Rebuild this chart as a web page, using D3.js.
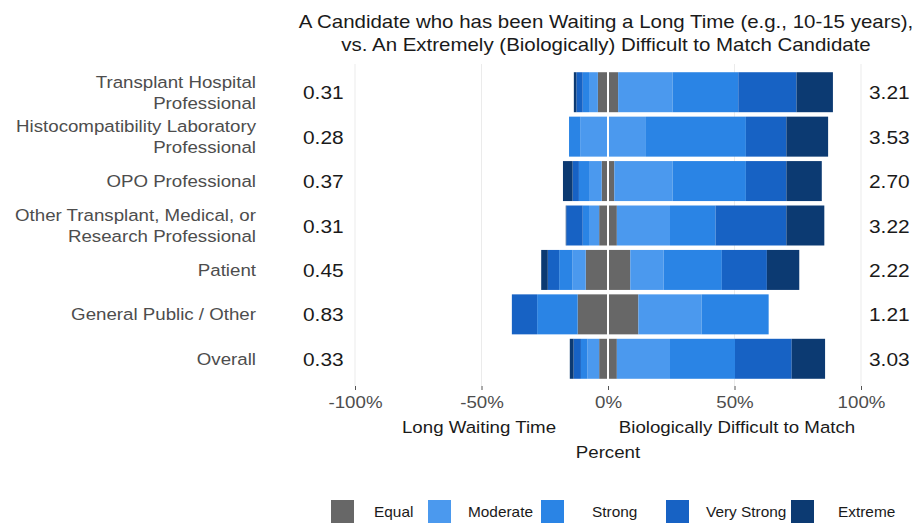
<!DOCTYPE html>
<html>
<head>
<meta charset="utf-8">
<script src="https://cdn.jsdelivr.net/npm/d3@7"></script>
<style>
  body { margin: 0; background: #fff; }
  svg { font-family: "Liberation Sans", Arial, sans-serif; }
</style>
</head>
<body>
<svg width="922" height="527"></svg>
<script>
// groups, top to bottom
const groups = [
  "Transplant Hospital|Professional",
  "Histocompatibility Laboratory|Professional",
  "OPO Professional",
  "Other Transplant, Medical, or|Research Professional",
  "Patient",
  "General Public / Other",
  "Overall"
];
const leftValues = ["0.31", "0.28", "0.37", "0.31", "0.45", "0.83", "0.33"];
const rightValues = ["3.21", "3.53", "2.70", "3.22", "2.22", "1.21", "3.03"];

const levels = ["Equal", "Moderate", "Strong", "Very Strong", "Extreme"];

// percent "Equal" (split half each side of zero)
const equal = [8, 0, 5, 7, 17.6, 24, 7];
// Long Waiting Time side (percent)
const leftModerate = [3.5, 11, 5, 4, 5.2, 0, 4.6];
const leftStrong = [2.5, 4.4, 4, 2.5, 5.3, 16, 2.6];
const leftVeryStrong = [2.5, 0, 2.5, 6.5, 4.5, 10, 2.9];
const leftExtreme = [1, 0, 3.8, 0.2, 2.6, 0, 1.5];
// Biologically Difficult to Match side (percent)
const rightModerate = [21.5, 15, 23, 21, 13.2, 25, 21];
const rightStrong = [26, 39.5, 29, 18, 23, 26.5, 25.7];
const rightVeryStrong = [23, 16, 16, 28, 17.8, 0, 22.4];
const rightExtreme = [14.4, 16.5, 14, 15, 12.8, 0, 13.2];

const ticks = [-100, -50, 0, 50, 100];
const colors = ["#676767", "#4b99ee", "#2a84e5", "#1762c4", "#0c3a72"];

// the source text is a little wider than Liberation Sans
const stretch = 1.1;

var svg = d3.select("svg");

var x = d3.scaleLinear().domain([-100, 100]).range([355, 861]);
var y = d3.scaleBand().domain(groups).range([70, 381]).paddingInner(0.1).paddingOuter(0.05);
var color = d3.scaleOrdinal().domain(levels).range(colors);

function label(parent, px, py, txt, size, anchor, fill) {
  return parent.append("text")
    .attr("transform", "translate(" + px + "," + py + ") scale(" + stretch + ",1)")
    .attr("text-anchor", anchor)
    .attr("font-size", size)
    .attr("fill", fill)
    .text(txt);
}

// gridlines
svg.append("g")
  .selectAll("line")
  .data(ticks)
  .enter()
  .append("line")
  .attr("x1", d => x(d))
  .attr("x2", d => x(d))
  .attr("y1", 64)
  .attr("y2", 386)
  .attr("stroke", "#ebebeb")
  .attr("stroke-width", 1);

// build segments for every row
var segs = [];
groups.forEach(function(g, i) {
  var half = equal[i] / 2;
  segs.push({ g: g, level: "Equal", x0: -half, x1: half });
  var leftParts = [leftModerate[i], leftStrong[i], leftVeryStrong[i], leftExtreme[i]];
  var rightParts = [rightModerate[i], rightStrong[i], rightVeryStrong[i], rightExtreme[i]];
  var lx = -half, rx = half;
  leftParts.forEach(function(v, k) {
    segs.push({ g: g, level: levels[k + 1], x0: lx - v, x1: lx });
    lx -= v;
  });
  rightParts.forEach(function(v, k) {
    segs.push({ g: g, level: levels[k + 1], x0: rx, x1: rx + v });
    rx += v;
  });
});

svg.append("g")
  .selectAll("rect")
  .data(segs.filter(d => d.x1 > d.x0))
  .enter()
  .append("rect")
  .attr("x", d => x(d.x0))
  .attr("width", d => x(d.x1) - x(d.x0))
  .attr("y", d => y(d.g))
  .attr("height", y.bandwidth())
  .attr("fill", d => color(d.level));

// white zero line over the bars
svg.append("line")
  .attr("x1", x(0))
  .attr("x2", x(0))
  .attr("y1", 64)
  .attr("y2", 386)
  .attr("stroke", "#fff")
  .attr("stroke-width", 2);

// x axis
var xAxis = svg.append("g")
  .attr("transform", "translate(0,386)")
  .call(d3.axisBottom(x).tickValues(ticks).tickSize(4).tickFormat(d => d + "%"));
xAxis.select(".domain").remove();
xAxis.selectAll("line").attr("stroke", "#555");
xAxis.selectAll("text")
  .attr("font-size", 17)
  .attr("fill", "#4d4d4d")
  .attr("font-family", "Liberation Sans, Arial, sans-serif")
  .attr("y", 22)
  .attr("dy", 0)
  .attr("transform", "scale(" + stretch + ",1)");

// side labels under axis
label(svg, 479, 433, "Long Waiting Time", 17, "middle", "#1a1a1a");
label(svg, 737, 433, "Biologically Difficult to Match", 17, "middle", "#1a1a1a");
label(svg, 608, 458, "Percent", 17, "middle", "#1a1a1a");

// title
label(svg, 606, 28, "A Candidate who has been Waiting a Long Time (e.g., 10-15 years),", 18.6, "middle", "#1a1a1a");
label(svg, 606, 51, "vs. An Extremely (Biologically) Difficult to Match Candidate", 18.6, "middle", "#1a1a1a");

// group labels
groups.forEach(function(d) {
  var lines = d.split("|");
  var cy = y(d) + y.bandwidth() / 2;
  lines.forEach(function(l, k) {
    label(svg, 256, cy + (k - (lines.length - 1) / 2) * 21 + 6, l, 17, "end", "#4d4d4d");
  });
});

// left / right numbers
leftValues.forEach(function(d, i) {
  label(svg, 303, y(groups[i]) + y.bandwidth() / 2 + 7, d, 19, "start", "#1a1a1a");
});
rightValues.forEach(function(d, i) {
  label(svg, 869, y(groups[i]) + y.bandwidth() / 2 + 7, d, 19, "start", "#1a1a1a");
});

// legend
const legendX = [331, 428, 541, 666, 791];
const legendTextX = [374, 468, 592, 706, 838];
var leg = svg.append("g").attr("class", "legend");
leg.selectAll("rect")
  .data(levels)
  .enter()
  .append("rect")
  .attr("x", (d, i) => legendX[i])
  .attr("y", 500)
  .attr("width", 23)
  .attr("height", 23)
  .attr("fill", d => color(d));
levels.forEach(function(d, i) {
  label(leg, legendTextX[i], 517, d, 14, "start", "#1a1a1a");
});
</script>
</body>
</html>
